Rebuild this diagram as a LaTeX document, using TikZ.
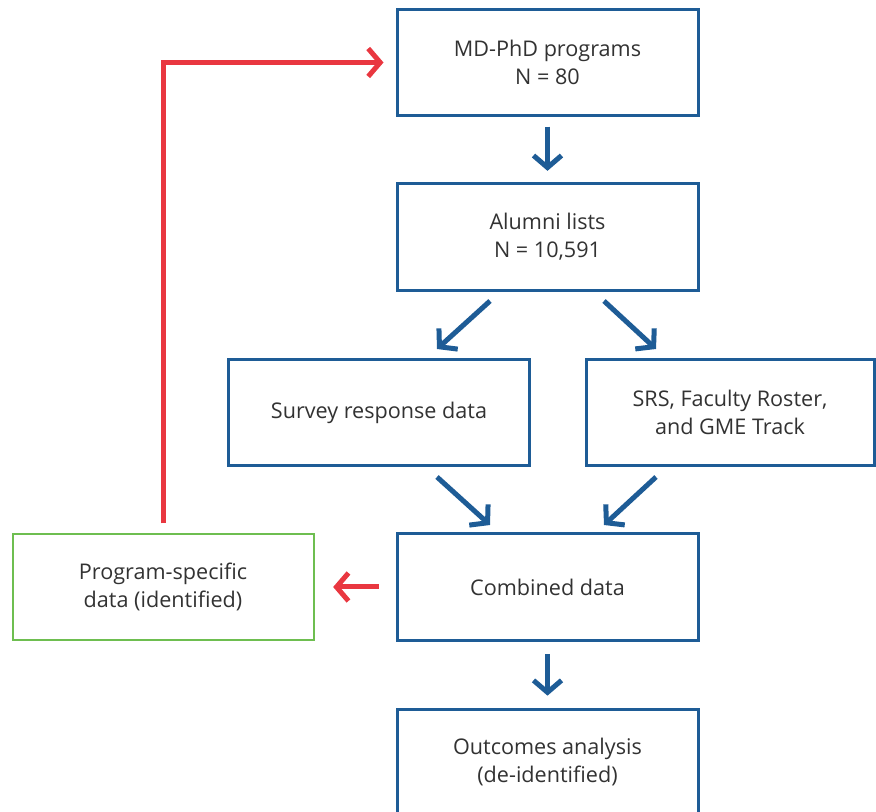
\documentclass[tikz,border=0pt]{standalone}
\usepackage{fontspec}
\setmainfont{Open Sans}
\usetikzlibrary{arrows.meta}

\definecolor{boxblue}{RGB}{30,92,150}
\definecolor{flowred}{RGB}{233,55,64}
\definecolor{boxgreen}{RGB}{110,190,80}
\definecolor{textgray}{RGB}{50,50,50}

\tikzset{
  box/.style={draw=boxblue, line width=2.25pt, minimum width=225.75pt, minimum height=80pt,
    inner sep=0pt, align=center, text=textgray, font=\fontsize{16.2}{21}\selectfont},
  greenbox/.style={box, draw=boxgreen, line width=1.5pt},
  bluearrow/.style={draw=boxblue, line width=3.75pt, -{Straight Barb[length=9pt,width=21pt]}},
  redarrow/.style={draw=flowred, line width=3.75pt, -{Straight Barb[length=9pt,width=21pt]}}
}

\begin{document}
\begin{tikzpicture}[x=0.75pt,y=-0.75pt]
            \useasboundingbox (0,0) rectangle (876,812);

            %colonna centrale
            \node[box] (md) at (547.5,62.5) {MD-PhD programs\\N = 80};
            \node[box] (alumni) at (547.5,237) {Alumni lists\\N = 10,591};

            %le due fonti di dati
            \node[box] (survey) at (379,412.5) {Survey response data};
            \node[box, minimum width=216pt] (srs) at (730,412.5) {SRS, Faculty Roster,\\and GME Track};

            %dati combinati e risultati
            \node[box] (combined) at (547.5,587) {Combined data};
            \node[greenbox] (program) at (163,587) {Program-specific\\data (identified)};
            \node[box] (outcomes) at (547.5,762.5) {Outcomes analysis\\(de-identified)};

            %estremi delle frecce oblique
            \coordinate (a1) at (490,301);
            \coordinate (a2) at (437,349);
            \coordinate (b1) at (604,301);
            \coordinate (b2) at (656,349);
            \coordinate (c1) at (437,477);
            \coordinate (c2) at (490,525);
            \coordinate (d1) at (656,477);
            \coordinate (d2) at (604,525);

            %Frecce
            \draw[bluearrow, shorten <=7pt, shorten >=8.5pt] (md) -- (alumni);
            \draw[bluearrow] (a1) -- (a2);
            \draw[bluearrow] (b1) -- (b2);
            \draw[bluearrow] (c1) -- (c2);
            \draw[bluearrow] (d1) -- (d2);
            \draw[bluearrow, shorten <=9pt, shorten >=9pt] (combined) -- (outcomes);
            \draw[redarrow, shorten <=12.5pt, shorten >=14pt] (combined) -- (program);
            \draw[redarrow, shorten <=7pt, shorten >=9pt] (program.north) |- (md.west);

        \end{tikzpicture}
\end{document}
